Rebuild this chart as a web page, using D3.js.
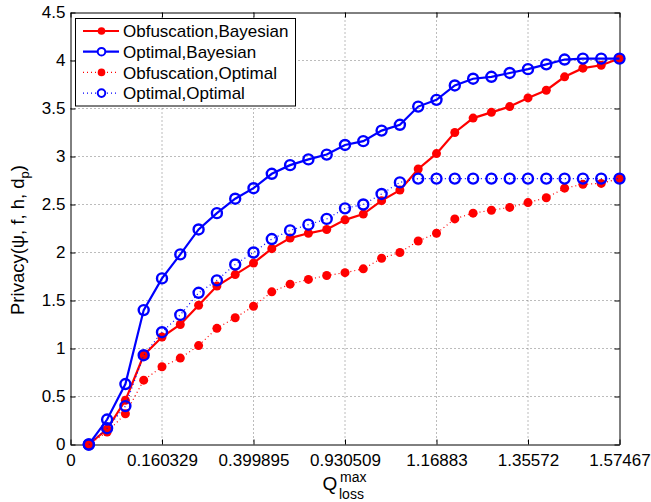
<!DOCTYPE html>
<html><head><meta charset="utf-8">
<script src="https://cdn.jsdelivr.net/npm/d3@7"></script>
<style>body{margin:0;background:#fff}svg{display:block}text{font-family:"Liberation Sans",Arial,sans-serif}</style>
</head><body><svg id="c" width="651" height="502"></svg>
<script>
const xIdx = d3.range(1, 31);
const xTickPos = [0, 5, 10, 15, 20, 25, 30];
const xTickLabels = ["0", "0.160329", "0.399895", "0.930509", "1.16883", "1.35572", "1.57467"];
const yTicks = [0, 0.5, 1, 1.5, 2, 2.5, 3, 3.5, 4, 4.5];
const seriesNames = ["Obfuscation,Bayesian", "Optimal,Bayesian", "Obfuscation,Optimal", "Optimal,Optimal"];
const obfBayes = [0,0.16,0.46,0.93,1.12,1.25,1.45,1.65,1.77,1.89,2.04,2.15,2.20,2.24,2.34,2.40,2.54,2.65,2.87,3.03,3.25,3.40,3.46,3.52,3.61,3.69,3.83,3.92,3.95,4.02];
const optBayes = [0,0.26,0.63,1.40,1.73,1.98,2.24,2.41,2.56,2.67,2.82,2.91,2.97,3.02,3.12,3.16,3.27,3.33,3.52,3.59,3.74,3.81,3.83,3.87,3.91,3.96,4.01,4.02,4.02,4.02];
const obfOpt = [0,0.13,0.32,0.67,0.81,0.90,1.03,1.21,1.32,1.44,1.59,1.67,1.72,1.76,1.79,1.83,1.94,2.00,2.12,2.20,2.35,2.41,2.44,2.47,2.52,2.57,2.67,2.71,2.72,2.77];
const optOpt = [0,0.17,0.40,0.93,1.17,1.35,1.58,1.71,1.875,2.00,2.14,2.23,2.29,2.35,2.46,2.50,2.61,2.73,2.77,2.77,2.77,2.77,2.77,2.77,2.77,2.77,2.77,2.77,2.77,2.77];

const series = [
  {name: seriesNames[0], vals: obfBayes, color: "#ff0000", dash: null, marker: "dot"},
  {name: seriesNames[1], vals: optBayes, color: "#0000ff", dash: null, marker: "ring"},
  {name: seriesNames[2], vals: obfOpt, color: "#ff0000", dash: "1,3", marker: "dot"},
  {name: seriesNames[3], vals: optOpt, color: "#0000ff", dash: "1,3", marker: "ring"}
];

const L = 70.5, R = 619.5, T = 12.5, B = 444.5;
const svg = d3.select("#c");
const x = d3.scaleLinear().domain([0, 30]).range([L, R]);
const y = d3.scaleLinear().domain([0, 4.5]).range([B, T]);

// grid
const g = svg.append("g");
g.selectAll(".gx").data(xTickPos.slice(1, -1)).join("line")
  .attr("x1", d => x(d)).attr("x2", d => x(d)).attr("y1", T).attr("y2", B)
  .attr("stroke", "#555").attr("stroke-width", 0.8).attr("stroke-dasharray", "1,3");
g.selectAll(".gy").data(yTicks.slice(1, -1)).join("line")
  .attr("y1", d => y(d)).attr("y2", d => y(d)).attr("x1", L).attr("x2", R)
  .attr("stroke", "#555").attr("stroke-width", 0.8).attr("stroke-dasharray", "1,3");

// axes
const fs = "17px";
const xa = svg.append("g").attr("transform", `translate(0,${B})`)
  .call(d3.axisBottom(x).tickValues(xTickPos).tickFormat((d, i) => xTickLabels[i]).tickSizeInner(-5).tickSizeOuter(0).tickPadding(9.5));
const xt = svg.append("g").attr("transform", `translate(0,${T})`)
  .call(d3.axisTop(x).tickValues(xTickPos).tickFormat("").tickSizeInner(-5).tickSizeOuter(0));
const ya = svg.append("g").attr("transform", `translate(${L},0)`)
  .call(d3.axisLeft(y).tickValues(yTicks).tickFormat(d3.format("")).tickSizeInner(-5).tickSizeOuter(0).tickPadding(5));
const yr = svg.append("g").attr("transform", `translate(${R},0)`)
  .call(d3.axisRight(y).tickValues(yTicks).tickFormat("").tickSizeInner(-5).tickSizeOuter(0));
[xa, xt, ya, yr].forEach(a => {
  a.selectAll("path,line").attr("stroke", "#000").attr("stroke-width", 1);
  a.selectAll("text").attr("font-size", fs).attr("fill", "#000").style("font-family", '"Liberation Sans",Arial,sans-serif');
});

// lines
const line = d3.line().x((d, i) => x(xIdx[i])).y(d => y(d));
series.forEach(s => {
  svg.append("path").datum(s.vals).attr("d", line).attr("fill", "none")
    .attr("stroke", s.color).attr("stroke-width", s.dash ? 1.2 : 2.2)
    .attr("stroke-dasharray", s.dash);
  const m = svg.append("g");
  m.selectAll("circle").data(s.vals).join("circle")
    .attr("cx", (d, i) => x(xIdx[i])).attr("cy", d => y(d))
    .attr("r", s.marker === "dot" ? 4.5 : 5)
    .attr("fill", s.marker === "dot" ? s.color : "none")
    .attr("stroke", s.color).attr("stroke-width", s.marker === "dot" ? 0 : 2.4);
});

// legend
const lg = svg.append("g");
lg.append("rect").attr("x", 75.5).attr("y", 18.5).attr("width", 220).attr("height", 87.5)
  .attr("fill", "#fff").attr("stroke", "#000").attr("stroke-width", 1);
series.forEach((s, i) => {
  const ly = 31 + i * 20.7;
  lg.append("line").attr("x1", 83).attr("x2", 119).attr("y1", ly).attr("y2", ly)
    .attr("stroke", s.color).attr("stroke-width", s.dash ? 1.2 : 2.2).attr("stroke-dasharray", s.dash);
  lg.append("circle").attr("cx", 101.5).attr("cy", ly).attr("r", 3.8)
    .attr("fill", s.marker === "dot" ? s.color : "#fff").attr("stroke", s.color)
    .attr("stroke-width", s.marker === "dot" ? 0 : 2);
  lg.append("text").attr("x", 123).attr("y", ly).attr("dy", "0.36em")
    .attr("font-size", "17px").text(s.name);
});

// axis labels
svg.append("text").attr("transform", "translate(24,240) rotate(-90)").attr("text-anchor", "middle")
  .attr("font-size", "18.5px")
  .html('Privacy(ψ, f, h, d<tspan dy="5" font-size="13px">p</tspan><tspan dy="-5">)</tspan>');
svg.append("text").attr("x", 322.5).attr("y", 490).attr("font-size", "19px").text("Q");
svg.append("text").attr("x", 340).attr("y", 482).attr("font-size", "14px").text("max");
svg.append("text").attr("x", 339).attr("y", 499).attr("font-size", "14px").text("loss");
</script></body></html>
